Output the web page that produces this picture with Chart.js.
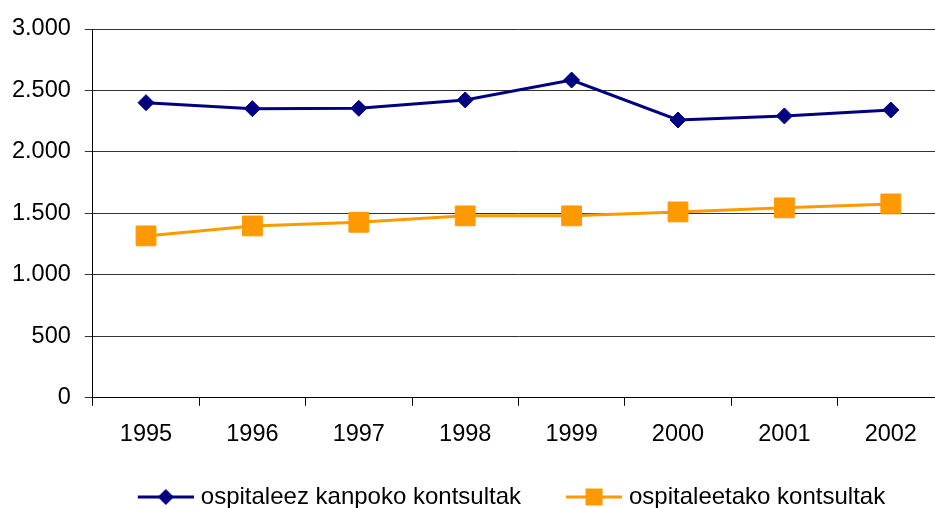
<!DOCTYPE html>
<html>
<head>
<meta charset="utf-8">
<script src="https://cdn.jsdelivr.net/npm/chart.js@4/dist/chart.umd.min.js"></script>
<style>
  html, body { margin: 0; padding: 0; background: #fff; overflow: hidden; }
</style>
</head>
<body>
<canvas id="kontsultak" width="959" height="519"></canvas>
<script>
var urteak = ['1995', '1996', '1997', '1998', '1999', '2000', '2001', '2002'];
var kanpoko = [2401, 2352, 2355, 2423, 2585, 2260, 2293, 2341];
var barruko = [1317, 1398, 1428, 1480, 1480, 1512, 1545, 1577];
var yTickLabels = ['0', '500', '1.000', '1.500', '2.000', '2.500', '3.000'];

var blue = '#000080';
var orange = '#FF9900';

// legend sample: a short line with the marker in the middle
function legendImage(color, shape) {
    var c = document.createElement('canvas');
    c.width = 85;
    c.height = 24;
    var g = c.getContext('2d');
    var x0 = 29, x1 = 85, cx = (x0 + x1) / 2, cy = 12;
    g.strokeStyle = color;
    g.fillStyle = color;
    g.lineWidth = 3;
    g.beginPath();
    g.moveTo(x0, cy);
    g.lineTo(x1, cy);
    g.stroke();
    g.beginPath();
    if (shape == 'diamond') {
        g.moveTo(cx - 8, cy);
        g.lineTo(cx, cy - 8);
        g.lineTo(cx + 8, cy);
        g.lineTo(cx, cy + 8);
        g.closePath();
    } else {
        g.rect(cx - 8.5, cy - 8.5, 17, 17);
    }
    g.fill();
    return c;
}
var legendImages = [legendImage(blue, 'diamond'), legendImage(orange, 'square')];

var ctx = document.getElementById('kontsultak');
var chart = new Chart(ctx, {
    type: 'line',
    data: {
        labels: urteak,
        datasets: [
            {
                label: 'ospitaleez kanpoko kontsultak',
                data: kanpoko,
                borderColor: blue,
                backgroundColor: blue,
                borderWidth: 3,
                pointStyle: 'rectRot',
                pointRadius: 8,
                pointBorderWidth: 1,
                tension: 0
            },
            {
                label: 'ospitaleetako kontsultak',
                data: barruko,
                borderColor: orange,
                backgroundColor: orange,
                borderWidth: 3,
                pointStyle: 'rect',
                pointRadius: 14,
                pointBorderWidth: 1,
                tension: 0
            }
        ]
    },
    options: {
        responsive: false,
        animation: false,
        layout: { padding: { top: 29, left: -2, right: 0, bottom: 0 } },
        scales: {
            x: {
                offset: true,
                grid: { drawOnChartArea: false, offset: true, tickLength: 8, color: '#000' },
                border: { color: '#000', width: 1 },
                ticks: { color: '#000', padding: 15, font: { family: 'Liberation Sans', size: 23.5 }, maxRotation: 0 }
            },
            y: {
                min: 0,
                max: 3000,
                grid: { color: '#333', tickLength: 8 },
                border: { color: '#000', width: 1 },
                ticks: {
                    stepSize: 500,
                    color: '#000',
                    padding: 14,
                    font: { family: 'Liberation Sans', size: 23.5 },
                    callback: function (value, index) {
                        return yTickLabels[index];
                    }
                }
            }
        },
        plugins: {
            tooltip: { enabled: false },
            legend: {
                position: 'bottom',
                align: 'start',
                fullSize: false,
                labels: {
                    usePointStyle: true,
                    pointStyleWidth: 75,
                    padding: 21,
                    color: '#000',
                    font: { family: 'Liberation Sans', size: 24 },
                    generateLabels: function (chart) {
                        var items = Chart.defaults.plugins.legend.labels.generateLabels(chart);
                        items.forEach(function (item, i) {
                            item.pointStyle = legendImages[i];
                        });
                        return items;
                    }
                }
            }
        }
    }
});
</script>
</body>
</html>
